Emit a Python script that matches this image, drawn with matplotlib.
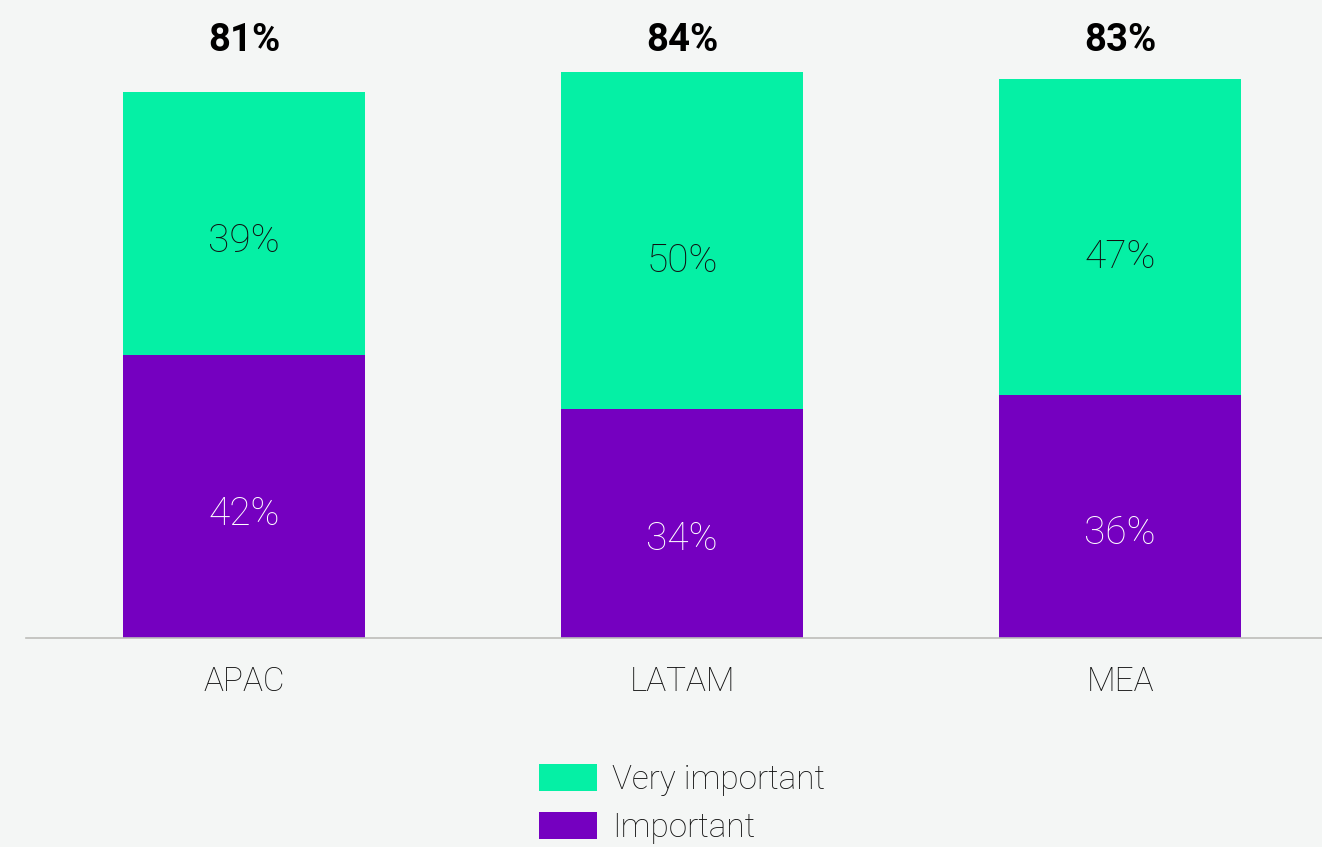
import matplotlib.pyplot as plt
from matplotlib.patches import Patch
import numpy as np

regions = ['APAC', 'LATAM', 'MEA']
important = [42, 34, 36]
very_important = [39, 50, 47]
totals = [81, 84, 83]

GREEN = '#05F0A5'
PURPLE = '#7500C0'
BG = '#F4F6F5'

plt.rcParams['font.family'] = ['Roboto', 'DejaVu Sans']

W, H = 1322, 847
fig = plt.figure(figsize=(W / 100, H / 100), dpi=100)
fig.patch.set_facecolor(BG)

# axes spans from the baseline up to the top edge of the figure
ax = fig.add_axes([26 / W, (H - 638) / H, 1 - 26 / W, 638 / H])
ax.set_facecolor(BG)

x = np.arange(len(regions))
width = 0.553

ax.bar(x, important, width, color=PURPLE, zorder=2)
ax.bar(x, very_important, width, bottom=important, color=GREEN, zorder=2)

ax.set_xlim(-0.498, 2.461)
ax.set_ylim(0, 94.7)

for i in range(len(regions)):
    # segment labels sit a little below the middle of each segment
    ax.text(x[i], important[i] * 0.45, f'{important[i]}%', ha='center',
            va='center_baseline', fontsize=28, fontweight='light', color='white', zorder=3)
    ax.text(x[i], important[i] + very_important[i] * 0.45, f'{very_important[i]}%',
            ha='center', va='center_baseline', fontsize=28, fontweight='light',
            color='#111111', zorder=3)
    ax.text(x[i], 89.3, f'{totals[i]}%', ha='center', va='center_baseline',
            fontsize=27.5, fontweight='bold', color='black')
    ax.annotate(regions[i], xy=(x[i], 0), xycoords=('data', 'axes fraction'),
                xytext=(0, -29.5), textcoords='offset points', ha='center',
                va='center_baseline', fontsize=24, fontweight='light',
                color='#111111', annotation_clip=False)

for s in ['top', 'right', 'left']:
    ax.spines[s].set_visible(False)
ax.spines['bottom'].set_color('#BDBDBA')
ax.spines['bottom'].set_linewidth(1.2)
ax.set_xticks([])
ax.set_yticks([])

handles = [Patch(facecolor=GREEN, label='Very important'),
           Patch(facecolor=PURPLE, label='Important')]
leg = fig.legend(handles=handles, loc='upper left',
                 bbox_to_anchor=(539 / W, 1 - 764 / H), frameon=False,
                 prop={'family': ['Roboto', 'DejaVu Sans'], 'weight': 'light', 'size': 24},
                 handlelength=1.74, handleheight=0.84, handletextpad=0.45,
                 labelspacing=0.48, borderpad=0, borderaxespad=0)
for t in leg.get_texts():
    t.set_color('#111111')

fig.savefig('out.png', dpi=100, facecolor=BG)
